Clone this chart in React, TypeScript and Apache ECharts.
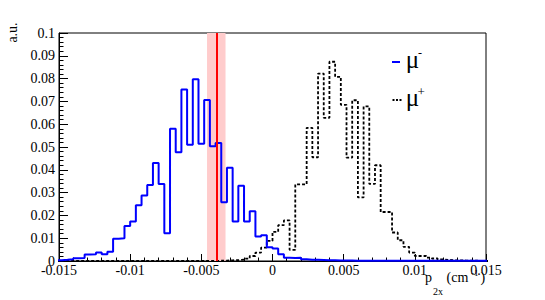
import React, { useEffect, useRef } from "react";
import * as echarts from "echarts";

// Histogram binning (edges at multiples of the bin width)
const binLow = -0.0152;
const binWidth = 0.0004;

// mu- (blue, solid), bins k = -38 .. 37
const muMinus = [
  0.0003, 0.0005, 0.0008, 0.0012, 0.0013, 0.0029, 0.003, 0.0037, 0.003, 0.0041,
  0.0098, 0.01, 0.0154, 0.0173, 0.0245, 0.0287, 0.0333, 0.043, 0.0338, 0.0122,
  0.058, 0.0477, 0.0752, 0.051, 0.0797, 0.0514, 0.0706, 0.0503, 0.0517, 0.0258,
  0.0409, 0.0173, 0.033, 0.0173, 0.0218, 0.0108, 0.0113, 0.006, 0.0055, 0.003,
  0.0014, 0.0013, 0.0014, 0.0008, 0.0006, 0.0005, 0.0004, 0.0003, 0.0003, 0.0002,
  0.0002, 0.0002, 0.0001, 0.0001, 0.0001, 0.0001, 0.0001, 0.0001, 0.0001, 0.0001,
  0.0001, 0.0001, 0.0001, 0.0001, 0.0001, 0.0001, 0.0001, 0.0001, 0.0001, 0.0001,
  0.0001, 0.0001, 0.0001, 0.0001, 0.0001, 0.0001,
];

// mu+ (black, dotted), bins k = -38 .. 37
const muPlus = [
  0, 0, 0, 0, 0, 0, 0, 0, 0, 0,
  0, 0, 0, 0, 0, 0, 0, 0, 0, 0,
  0, 0, 0, 0, 0, 0, 0, 0, 0.0001, 0.0002,
  0.0003, 0.0004, 0.0006, 0.001, 0.0022, 0.0037, 0.0059, 0.0088, 0.0128, 0.0157,
  0.0178, 0.0049, 0.0336, 0.0336, 0.0584, 0.0455, 0.0822, 0.0628, 0.0874, 0.0808,
  0.0685, 0.0453, 0.0705, 0.0279, 0.0678, 0.0338, 0.042, 0.0215, 0.0215, 0.0125,
  0.0091, 0.0062, 0.0037, 0.0022, 0.0022, 0.0015, 0.0011, 0.0007, 0.0005, 0.0003,
  0.0003, 0.0002, 0.0001, 0.0001, 0, 0,
];

// Reference line and band
const refLine = -0.0039;
const refBand = [-0.0046, -0.0033];

// Axes
const xMin = -0.015;
const xMax = 0.015;
const xInterval = 0.005;
const yMin = 0;
const yMax = 0.1;
const yInterval = 0.01;

const FONT = '"Liberation Serif", "Times New Roman", serif';

function stepData(values: number[]) {
  const pts: [number, number][] = values.map((v, i) => [binLow + i * binWidth, v]);
  pts.push([binLow + values.length * binWidth, values[values.length - 1]]);
  return pts;
}

export default function App() {
  const ref = useRef<HTMLDivElement>(null);
  useEffect(() => {
    if (!ref.current) return;
    const chart = echarts.init(ref.current, undefined, { renderer: "svg" });
    const txt = (text: string, x: number, y: number, size: number, extra: any = {}) => ({
      type: "text",
      x,
      y,
      ...extra,
      style: {
        text,
        font: `${size}px ${FONT}`,
        fill: "#000",
        align: "left",
        verticalAlign: "middle",
        ...(extra.style || {}),
      },
    });
    chart.setOption({
      animation: false,
      backgroundColor: "#fff",
      grid: {
        left: 59,
        right: 59,
        top: 33,
        bottom: 39,
        show: true,
        borderColor: "#000",
        borderWidth: 1,
        backgroundColor: "transparent",
      },
      xAxis: {
        type: "value",
        min: xMin,
        max: xMax,
        interval: xInterval,
        axisLine: { onZero: false, lineStyle: { color: "#000", width: 1 } },
        axisTick: { inside: true, length: 7, lineStyle: { color: "#000", width: 1 } },
        minorTick: { show: true, splitNumber: 5, length: 3.5, lineStyle: { color: "#000", width: 1 } },
        splitLine: { show: false },
        axisLabel: { color: "#000", fontFamily: FONT, fontSize: 14, margin: 2 },
      },
      yAxis: {
        type: "value",
        min: yMin,
        max: yMax,
        interval: yInterval,
        axisLine: { onZero: false, lineStyle: { color: "#000", width: 1 } },
        axisTick: { inside: true, length: 9, lineStyle: { color: "#000", width: 1 } },
        minorTick: { show: true, splitNumber: 5, length: 4.5, lineStyle: { color: "#000", width: 1 } },
        splitLine: { show: false },
        axisLabel: { color: "#000", fontFamily: FONT, fontSize: 14, margin: 4 },
      },
      series: [
        {
          name: "mu-",
          type: "line",
          step: "end",
          symbol: "none",
          data: stepData(muMinus),
          lineStyle: { color: "#0000ff", width: 2 },
          itemStyle: { color: "#0000ff" },
          z: 3,
          markArea: {
            silent: true,
            z: 1,
            itemStyle: { color: "#ffcccc", opacity: 1 },
            data: [[{ xAxis: refBand[0] }, { xAxis: refBand[1] }]],
          },
        },
        {
          name: "mu+",
          type: "line",
          step: "end",
          symbol: "none",
          data: stepData(muPlus),
          lineStyle: { color: "#000000", width: 1.8, type: [3, 2] },
          itemStyle: { color: "#000" },
          z: 2,
        },
        {
          name: "ref",
          type: "line",
          symbol: "none",
          data: [
            [refLine, yMin],
            [refLine, yMax],
          ],
          lineStyle: { color: "#ff0000", width: 2 },
          itemStyle: { color: "#ff0000" },
          z: 5,
        },
      ],
      graphic: [
        txt("a.u.", 12, 32.5, 14, {
          rotation: Math.PI / 2,
          style: { align: "center" },
        }),
        txt("p", 425, 277, 14),
        txt("2x", 433, 291.5, 10),
        txt("(cm", 446.5, 277, 14),
        txt("-1", 471, 272.5, 9),
        txt(")", 480.5, 277, 14),
        {
          type: "line",
          shape: { x1: 392, y1: 62, x2: 400, y2: 62 },
          style: { stroke: "#0000ff", lineWidth: 2 },
        },
        txt("μ", 405.7, 59.6, 25),
        txt("-", 418, 53.2, 12),
        {
          type: "line",
          shape: { x1: 392.5, y1: 100, x2: 401.5, y2: 100 },
          style: { stroke: "#000", lineWidth: 1.8, lineDash: [2, 1.5] },
        },
        txt("μ", 405.7, 97.6, 25),
        txt("+", 417.5, 91.6, 13),
      ],
    });
    return () => chart.dispose();
  }, []);
  return (
    <div
      ref={ref}
      style={{ position: "fixed", left: 0, top: 0, width: 545, height: 300 }}
    />
  );
}
